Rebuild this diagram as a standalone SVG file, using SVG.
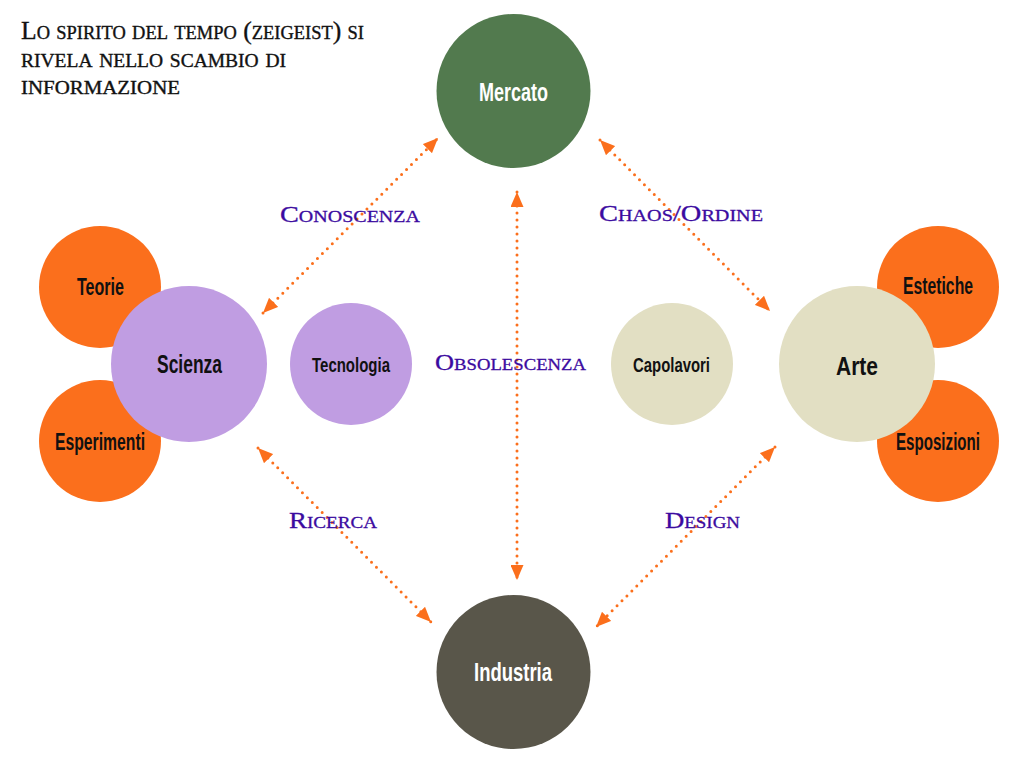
<svg xmlns="http://www.w3.org/2000/svg" width="1024" height="768" viewBox="0 0 1024 768">
<defs>
<style>
.title{font-family:"Liberation Serif","Times New Roman",serif;font-variant:small-caps;font-size:25px;fill:#111;stroke:#111;stroke-width:0.35;}
.lbl{font-family:"Liberation Serif","Times New Roman",serif;font-variant:small-caps;font-size:24px;fill:#3b0aa0;stroke:#3b0aa0;stroke-width:0.3;}
.nt{font-family:"Liberation Sans",Arial,sans-serif;font-weight:bold;fill:#111;}
.wt{fill:#ffffff;}
.conn{fill:none;stroke:#fb6f1c;stroke-width:3;stroke-dasharray:0 7;stroke-linecap:round;marker-start:url(#ah);marker-end:url(#ah);}
.orange{fill:#fb6f1c;}
.lav{fill:#c09de2;}
.beige{fill:#e2dfc3;}
</style>
<marker id="ah" viewBox="0 0 15 13" refX="15" refY="6.5" markerWidth="15" markerHeight="13" markerUnits="userSpaceOnUse" orient="auto-start-reverse">
<path d="M0,0 L15,6.5 L0,13 z" fill="#fb6f1c"/>
</marker>
</defs>
<rect width="1024" height="768" fill="#ffffff"/>
<g id="title">
<text class="title" x="21" y="39" textLength="343" lengthAdjust="spacingAndGlyphs">Lo spirito del tempo (zeigeist) si</text>
<text class="title" x="21" y="67" textLength="265" lengthAdjust="spacingAndGlyphs">rivela nello scambio di</text>
<text class="title" x="21" y="94" textLength="159" lengthAdjust="spacingAndGlyphs">informazione</text>
</g>
<g id="connectors">
<line class="conn" x1="263" y1="313" x2="438" y2="138"/>
<line class="conn" x1="600" y1="140" x2="770" y2="311"/>
<line class="conn" x1="517" y1="192" x2="517" y2="580"/>
<line class="conn" x1="258" y1="448" x2="431" y2="622"/>
<line class="conn" x1="775" y1="447" x2="596" y2="627"/>
</g>
<g id="connector-labels">
<text class="lbl" x="280" y="222" textLength="140" lengthAdjust="spacingAndGlyphs">Conoscenza</text>
<text class="lbl" x="599" y="221" textLength="164" lengthAdjust="spacingAndGlyphs">Chaos/Ordine</text>
<text class="lbl" x="435" y="370" textLength="151" lengthAdjust="spacingAndGlyphs">Obsolescenza</text>
<text class="lbl" x="289" y="528" textLength="88" lengthAdjust="spacingAndGlyphs">Ricerca</text>
<text class="lbl" x="665" y="528" textLength="75" lengthAdjust="spacingAndGlyphs">Design</text>
</g>
<g id="teorie">
<circle class="orange" cx="100" cy="287" r="61"/>
<text class="nt" x="77" y="295" font-size="23" textLength="47" lengthAdjust="spacingAndGlyphs">Teorie</text>
</g>
<g id="esperimenti">
<circle class="orange" cx="100" cy="441" r="61"/>
<text class="nt" x="55" y="450" font-size="23" textLength="90" lengthAdjust="spacingAndGlyphs">Esperimenti</text>
</g>
<g id="scienza">
<circle class="lav" cx="189" cy="364" r="78"/>
<text class="nt" x="157" y="373" font-size="25" textLength="65" lengthAdjust="spacingAndGlyphs">Scienza</text>
</g>
<g id="tecnologia">
<circle class="lav" cx="351" cy="364" r="61"/>
<text class="nt" x="312" y="372" font-size="21" textLength="78" lengthAdjust="spacingAndGlyphs">Tecnologia</text>
</g>
<g id="capolavori">
<circle class="beige" cx="672" cy="364" r="61"/>
<text class="nt" x="633" y="372" font-size="21" textLength="77" lengthAdjust="spacingAndGlyphs">Capolavori</text>
</g>
<g id="estetiche">
<circle class="orange" cx="938" cy="287" r="61"/>
<text class="nt" x="903" y="294" font-size="23" textLength="70" lengthAdjust="spacingAndGlyphs">Estetiche</text>
</g>
<g id="esposizioni">
<circle class="orange" cx="938" cy="441" r="61"/>
<text class="nt" x="896" y="450" font-size="23" textLength="84" lengthAdjust="spacingAndGlyphs">Esposizioni</text>
</g>
<g id="arte">
<circle class="beige" cx="857" cy="364" r="78"/>
<text class="nt" x="836" y="375" font-size="25" textLength="42" lengthAdjust="spacingAndGlyphs">Arte</text>
</g>
<g id="mercato">
<circle cx="513.5" cy="91" r="77" fill="#527a4e"/>
<text class="nt wt" x="479" y="101" font-size="25" textLength="69" lengthAdjust="spacingAndGlyphs">Mercato</text>
</g>
<g id="industria">
<circle cx="513.5" cy="672" r="77" fill="#59564a"/>
<text class="nt wt" x="474" y="681" font-size="25" textLength="78" lengthAdjust="spacingAndGlyphs">Industria</text>
</g>
</svg>
